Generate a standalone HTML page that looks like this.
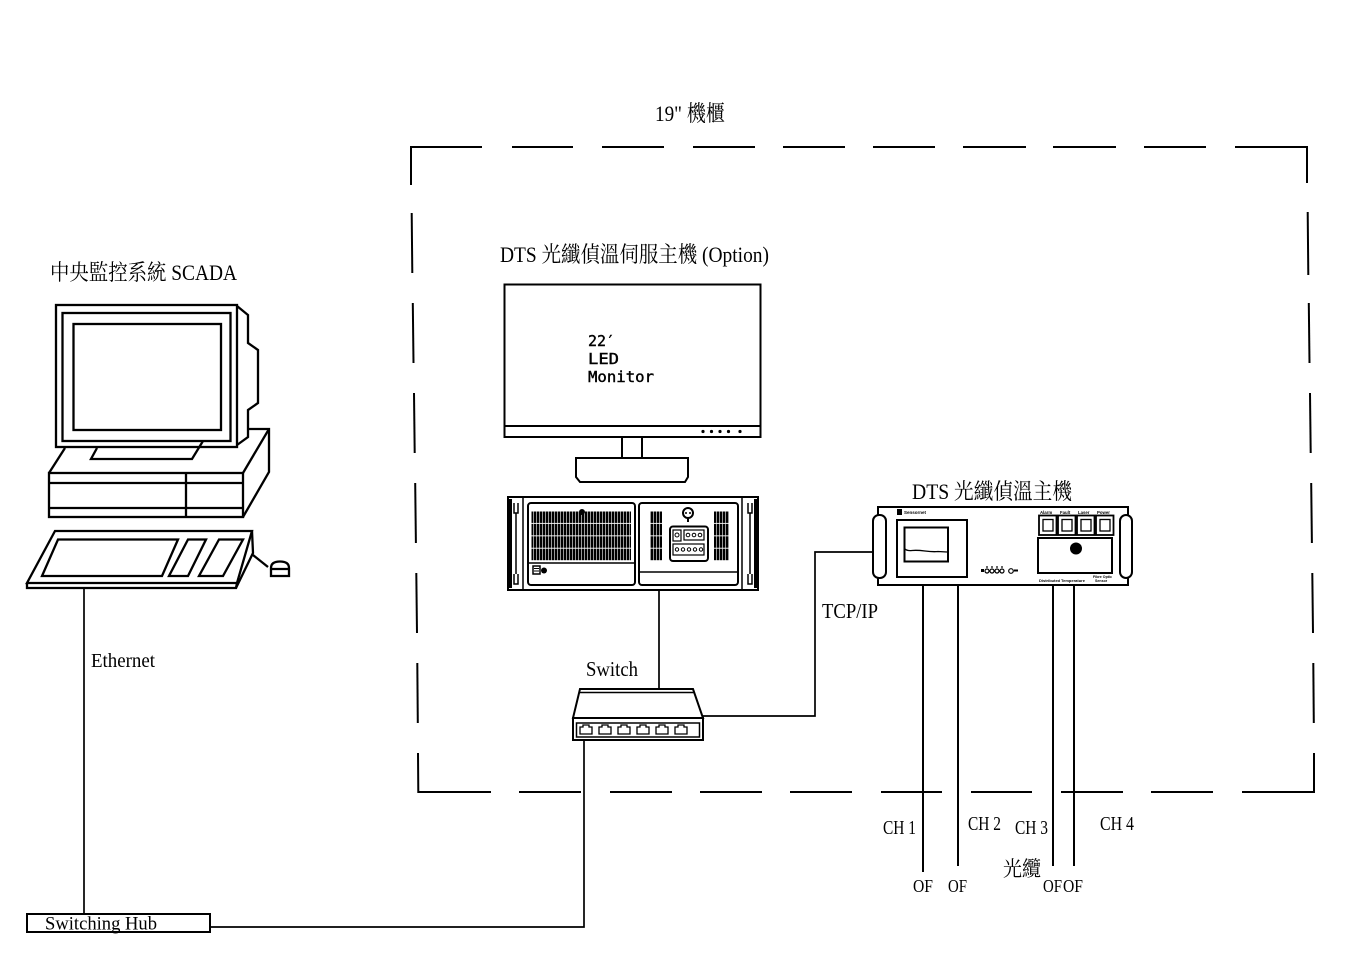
<!DOCTYPE html>
<html><head><meta charset="utf-8"><style>
html,body{margin:0;padding:0;background:#fff;}
svg{display:block;}
text{font-family:"Liberation Serif","Noto Serif CJK SC",serif;fill:#000;}
.t{font-family:"Liberation Sans",sans-serif;}
</style></head><body>
<svg width="1365" height="965" viewBox="0 0 1365 965" xmlns="http://www.w3.org/2000/svg">
<defs>
<pattern id="vent" x="531" y="511" width="3" height="12.4" patternUnits="userSpaceOnUse">
<rect x="0" y="0.5" width="2.4" height="11.5" fill="#000"/>
</pattern>
</defs>
<g stroke="#000" fill="none" stroke-linecap="butt">

<!-- Dashed cabinet box -->
<g stroke-width="2">
<path d="M411,185 L411,147 L482,147"/>
<line x1="512" y1="147" x2="573" y2="147"/>
<line x1="602" y1="147" x2="664" y2="147"/>
<line x1="693" y1="147" x2="755" y2="147"/>
<line x1="783" y1="147" x2="845" y2="147"/>
<line x1="873" y1="147" x2="935" y2="147"/>
<line x1="963" y1="147" x2="1026" y2="147"/>
<line x1="1053" y1="147" x2="1116" y2="147"/>
<line x1="1144" y1="147" x2="1206" y2="147"/>
<path d="M1235,147 L1307,147 L1307,183"/>
<!-- left edge -->
<line x1="411.7" y1="213" x2="412.3" y2="273"/>
<line x1="412.8" y1="303" x2="413.5" y2="363"/>
<line x1="414" y1="393" x2="414.7" y2="453"/>
<line x1="415.2" y1="483" x2="415.9" y2="543"/>
<line x1="416.3" y1="573" x2="417" y2="633"/>
<line x1="417.3" y1="663" x2="417.8" y2="723"/>
<path d="M418,753 L418.3,792 L491,792"/>
<!-- right edge -->
<line x1="1307.7" y1="212" x2="1308.3" y2="275"/>
<line x1="1308.8" y1="303" x2="1309.5" y2="363"/>
<line x1="1310" y1="393" x2="1310.7" y2="453"/>
<line x1="1311.2" y1="483" x2="1311.9" y2="543"/>
<line x1="1312.3" y1="573" x2="1313" y2="633"/>
<line x1="1313.3" y1="663" x2="1313.8" y2="723"/>
<path d="M1314,753 L1314,792 L1242,792"/>
<!-- bottom -->
<line x1="519" y1="792" x2="581" y2="792"/>
<line x1="610" y1="792" x2="672" y2="792"/>
<line x1="700" y1="792" x2="762" y2="792"/>
<line x1="790" y1="792" x2="852" y2="792"/>
<line x1="881" y1="792" x2="942" y2="792"/>
<line x1="971" y1="792" x2="1032" y2="792"/>
<line x1="1061" y1="792" x2="1123" y2="792"/>
<line x1="1151" y1="792" x2="1213" y2="792"/>
</g>

<!-- ===== SCADA computer ===== -->
<g stroke-width="2.3" stroke-linejoin="miter">
<rect x="56" y="305" width="181" height="142" fill="#fff"/>
<rect x="62.5" y="313" width="168" height="128"/>
<rect x="73.5" y="324" width="147.5" height="106"/>
<polyline points="237,306 248,315 248,343 258,350 258,403 248,410 248,437 237,445"/>
<polyline points="97,448 91,459 192,459 203,441"/>
<!-- case -->
<line x1="49" y1="473" x2="65" y2="448"/>
<polyline points="248,429 269,429 269,472 243,517"/>
<line x1="243" y1="473" x2="269" y2="429"/>
<rect x="49" y="473" width="194" height="44"/>
<line x1="49" y1="483" x2="243" y2="483"/>
<line x1="49" y1="508" x2="243" y2="508"/>
<line x1="186" y1="473" x2="186" y2="517"/>
<!-- keyboard -->
<polygon points="55,531 252,531 237,583 27,583"/>
<polyline points="27,583 27,588 236,588 237,583"/>
<polyline points="252,531 253,553 236,588"/>
<polygon points="58,539.5 178,539.5 162,576 42,576"/>
<polygon points="188,539.5 206,539.5 188,576 169,576"/>
<polygon points="219,539.5 243,539.5 223,576 199,576"/>
<line x1="253" y1="555" x2="268" y2="567"/>
<path d="M271,576 L271,568 Q271,561.5 280,561.5 Q289,561.5 289,568 L289,576 Z"/>
<line x1="271" y1="569" x2="289" y2="569"/>
</g>

<!-- connection lines -->
<g stroke-width="1.7">
<line x1="84" y1="588" x2="84" y2="914"/>
<polyline points="210,927 584,927 584,740"/>
<line x1="659" y1="590" x2="659" y2="689"/>
<polyline points="703,716 815,716 815,552 877,552"/>
</g>
<rect x="27" y="914" width="183" height="18" stroke-width="2"/>

<!-- ===== Switch ===== -->
<g stroke-width="2">
<polygon points="580,689 693,689 703,718 573,718" fill="#fff"/>
<line x1="579" y1="692.5" x2="694" y2="692.5" stroke-width="1.5"/>
<rect x="573" y="718" width="130" height="22"/>
<rect x="576.5" y="723" width="123" height="14" stroke-width="1.5"/>
</g>
<g stroke-width="1.3">
<path d="M580,734 v-7 h3 v-2 h6 v2 h3 v7 z"/>
<path d="M599,734 v-7 h3 v-2 h6 v2 h3 v7 z"/>
<path d="M618,734 v-7 h3 v-2 h6 v2 h3 v7 z"/>
<path d="M637,734 v-7 h3 v-2 h6 v2 h3 v7 z"/>
<path d="M656,734 v-7 h3 v-2 h6 v2 h3 v7 z"/>
<path d="M675,734 v-7 h3 v-2 h6 v2 h3 v7 z"/>
</g>

<!-- ===== DTS server monitor ===== -->
<g stroke-width="2">
<rect x="504.5" y="284.5" width="256" height="152.5"/>
<line x1="504.5" y1="426" x2="760.5" y2="426"/>
<line x1="622" y1="437" x2="622" y2="458"/>
<line x1="642" y1="437" x2="642" y2="458"/>
<path d="M576,458 L688,458 L688,477 L685,482 L580,482 L576,477 Z"/>
</g>
<g fill="#000" stroke="none">
<circle cx="703" cy="431.5" r="1.6"/><circle cx="711.5" cy="431.5" r="1.6"/><circle cx="720" cy="431.5" r="1.6"/><circle cx="728.5" cy="431.5" r="1.6"/><circle cx="740" cy="431.5" r="1.6"/>
</g>

<!-- ===== Server chassis ===== -->
<g stroke-width="2">
<rect x="508" y="497" width="250" height="93"/>
<rect x="528" y="503" width="107" height="82" rx="3"/>
<rect x="639" y="503" width="99" height="82" rx="3"/>
<line x1="528" y1="563" x2="635" y2="563" stroke-width="1.5"/>
<line x1="639" y1="572" x2="738" y2="572" stroke-width="1.5"/>
<line x1="523" y1="497" x2="523" y2="590" stroke-width="1.5"/>
<line x1="742" y1="497" x2="742" y2="590" stroke-width="1.5"/>
</g>
<rect x="508" y="499" width="4" height="89" fill="#000" stroke="none"/>
<rect x="754" y="499" width="4" height="89" fill="#000" stroke="none"/>
<g stroke-width="1.5">
<path d="M514,503 v10 h4 v-10 M514,574 v10 h4 v-10"/>
<path d="M516,513 v61"/>
<path d="M748,503 v10 h4 v-10 M748,574 v10 h4 v-10"/>
<path d="M750,513 v61"/>
</g>
<rect x="531.5" y="511" width="99.5" height="50" fill="url(#vent)" stroke="none"/>
<rect x="650" y="511" width="12" height="50" fill="url(#vent)" stroke="none"/>
<rect x="713.5" y="511" width="15" height="50" fill="url(#vent)" stroke="none"/>
<circle cx="582" cy="512" r="3" fill="#000" stroke="none"/>
<circle cx="688" cy="513" r="5" stroke-width="2" fill="#fff"/>
<circle cx="686" cy="513" r="1" fill="#000" stroke="none"/><circle cx="690" cy="513" r="1" fill="#000" stroke="none"/>
<line x1="688" y1="518" x2="688" y2="522" stroke-width="2"/>
<rect x="670" y="526.5" width="38" height="34.5" rx="3" stroke-width="2"/>
<rect x="673" y="530" width="8" height="11" stroke-width="1.2"/>
<circle cx="677" cy="535" r="2" stroke-width="1"/>
<rect x="684" y="530" width="20" height="10" stroke-width="1.2"/>
<circle cx="688" cy="535" r="1.8" stroke-width="1"/><circle cx="694" cy="535" r="1.8" stroke-width="1"/><circle cx="700" cy="535" r="1.8" stroke-width="1"/>
<rect x="673" y="544" width="31" height="11" stroke-width="1.2"/>
<circle cx="677" cy="549.5" r="1.7" stroke-width="1"/><circle cx="683" cy="549.5" r="1.7" stroke-width="1"/><circle cx="689" cy="549.5" r="1.7" stroke-width="1"/><circle cx="695" cy="549.5" r="1.7" stroke-width="1"/><circle cx="701" cy="549.5" r="1.7" stroke-width="1"/>
<rect x="533" y="566" width="7" height="8" stroke-width="1.5"/>
<line x1="534" y1="568.5" x2="539" y2="568.5" stroke-width="1"/><line x1="534" y1="571" x2="539" y2="571" stroke-width="1"/>
<circle cx="544" cy="570.5" r="3" fill="#000" stroke="none"/>

<!-- ===== DTS main unit ===== -->
<g stroke-width="2">
<rect x="878" y="507" width="250" height="78"/>
<rect x="873" y="515" width="13" height="63" rx="6" fill="#fff"/>
<rect x="1120" y="515" width="12" height="63" rx="6" fill="#fff"/>
<rect x="897" y="520" width="70" height="57"/>
<rect x="904.5" y="527.5" width="43.5" height="34"/>
<path d="M905,549 Q907,551 912,550.5 T925,551 T938,551.5 L947,552" stroke-width="1.3"/>
<rect x="1038" y="538" width="74" height="35"/>
</g>
<rect x="897" y="509" width="5" height="6" fill="#000" stroke="none"/>
<g stroke-width="1.8">
<rect x="1039" y="515.5" width="17.5" height="19.5"/><rect x="1043" y="519.5" width="10" height="11.5" stroke-width="1.3"/>
<rect x="1058" y="515.5" width="17.5" height="19.5"/><rect x="1062" y="519.5" width="10" height="11.5" stroke-width="1.3"/>
<rect x="1077" y="515.5" width="17.5" height="19.5"/><rect x="1081" y="519.5" width="10" height="11.5" stroke-width="1.3"/>
<rect x="1096" y="515.5" width="17.5" height="19.5"/><rect x="1100" y="519.5" width="10" height="11.5" stroke-width="1.3"/>
</g>
<circle cx="1076" cy="548.5" r="6" fill="#000" stroke="none"/>
<rect x="981" y="569" width="3" height="3" fill="#000" stroke="none"/>
<g stroke-width="1.2">
<circle cx="987" cy="571" r="2"/><circle cx="992" cy="571" r="2"/><circle cx="997" cy="571" r="2"/><circle cx="1002" cy="571" r="2"/>
<line x1="987" y1="566" x2="987" y2="568"/><line x1="992" y1="566" x2="992" y2="568"/><line x1="997" y1="566" x2="997" y2="568"/><line x1="1002" y1="566" x2="1002" y2="568"/>
<circle cx="1011" cy="571" r="2.3"/>
</g>
<rect x="1014" y="569.5" width="4" height="2" fill="#000" stroke="none"/>

<!-- channel lines -->
<g stroke-width="2">
<line x1="923" y1="585" x2="923" y2="872"/>
<line x1="958" y1="585" x2="958" y2="866"/>
<line x1="1053" y1="585" x2="1053" y2="866"/>
<line x1="1074" y1="585" x2="1074" y2="866"/>
</g>
</g>

<!-- tiny labels on DTS unit -->
<g class="t" font-weight="bold">
<text x="904" y="514" font-size="4.5" class="t">Sensornet</text>
<text x="1040" y="514" font-size="4.3" class="t">Alarm</text>
<text x="1060" y="514" font-size="4.3" class="t">Fault</text>
<text x="1078" y="514" font-size="4.3" class="t">Laser</text>
<text x="1097" y="514" font-size="4.3" class="t">Power</text>
<text x="1039" y="582" font-size="4" class="t">Distributed</text>
<text x="1061" y="582" font-size="4" class="t">Temperature</text>
<text x="1093" y="578" font-size="3.6" class="t">Fibre Optic</text>
<text x="1095" y="582" font-size="3.6" class="t">Sensor</text>
</g>

<!-- monitor text -->
<g>
<text x="588" y="346" font-size="15" stroke="#000" stroke-width="0.4" style="font-family:'DejaVu Sans Mono','Liberation Mono',monospace" textLength="27" lengthAdjust="spacingAndGlyphs">22′</text>
<text x="588" y="364" font-size="15" stroke="#000" stroke-width="0.4" style="font-family:'DejaVu Sans Mono','Liberation Mono',monospace" textLength="31" lengthAdjust="spacingAndGlyphs">LED</text>
<text x="588" y="382" font-size="15" stroke="#000" stroke-width="0.4" style="font-family:'DejaVu Sans Mono','Liberation Mono',monospace" textLength="66" lengthAdjust="spacingAndGlyphs">Monitor</text>
</g>

<!-- labels -->
<text x="655" y="121" font-size="22" textLength="70" lengthAdjust="spacingAndGlyphs">19" 機櫃</text>
<text x="500" y="262" font-size="22" textLength="269" lengthAdjust="spacingAndGlyphs">DTS 光纖偵溫伺服主機 (Option)</text>
<text x="50" y="280" font-size="22" textLength="187" lengthAdjust="spacingAndGlyphs">中央監控系統 SCADA</text>
<text x="912" y="499" font-size="22" textLength="160" lengthAdjust="spacingAndGlyphs">DTS 光纖偵溫主機</text>
<text x="822" y="618" font-size="21" textLength="56" lengthAdjust="spacingAndGlyphs">TCP/IP</text>
<text x="586" y="676" font-size="21" textLength="52" lengthAdjust="spacingAndGlyphs">Switch</text>
<text x="91" y="667" font-size="20" textLength="64" lengthAdjust="spacingAndGlyphs">Ethernet</text>
<text x="45" y="929.5" font-size="19" textLength="112" lengthAdjust="spacingAndGlyphs">Switching Hub</text>
<text x="883" y="834" font-size="20" textLength="33" lengthAdjust="spacingAndGlyphs">CH 1</text>
<text x="968" y="830" font-size="20" textLength="33" lengthAdjust="spacingAndGlyphs">CH 2</text>
<text x="1015" y="834" font-size="20" textLength="33" lengthAdjust="spacingAndGlyphs">CH 3</text>
<text x="1100" y="830" font-size="20" textLength="34" lengthAdjust="spacingAndGlyphs">CH 4</text>
<text x="1003" y="876" font-size="21" textLength="38" lengthAdjust="spacingAndGlyphs">光纜</text>
<text x="913" y="892" font-size="18" textLength="20" lengthAdjust="spacingAndGlyphs">OF</text>
<text x="948" y="892" font-size="18" textLength="19" lengthAdjust="spacingAndGlyphs">OF</text>
<text x="1043" y="892" font-size="18" textLength="19" lengthAdjust="spacingAndGlyphs">OF</text>
<text x="1063" y="892" font-size="18" textLength="20" lengthAdjust="spacingAndGlyphs">OF</text>
</svg>
</body></html>
